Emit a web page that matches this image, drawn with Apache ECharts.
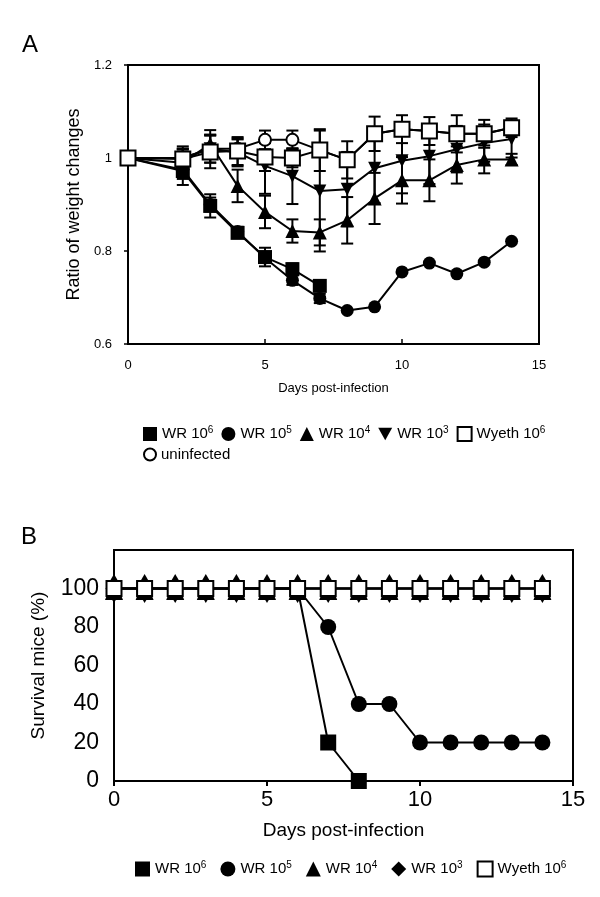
<!DOCTYPE html>
<html>
<head>
<meta charset="utf-8">
<script src="https://cdn.jsdelivr.net/npm/echarts@6/dist/echarts.min.js"></script>
<style>
  html, body { margin: 0; padding: 0; background: #fff; }
  #chart { width: 600px; height: 897px; }
</style>
</head>
<body>
<div id="chart"></div>
<script>
// panel A: weight ratio
const daysA = [0, 2, 3, 4, 5, 6, 7, 8, 9, 10, 11, 12, 13, 14];
const wr6A = [1.0, 0.972, 0.897, 0.839, 0.787, 0.761, 0.725];
const wr5A = [1.0, 0.975, 0.9, 0.842, 0.785, 0.737, 0.698, 0.672, 0.680, 0.755, 0.774, 0.751, 0.776, 0.821];
const wr4A = [1.0, 0.99, 1.03, 0.94, 0.884, 0.843, 0.84, 0.866, 0.913, 0.952, 0.952, 0.985, 0.997, 0.997];
const wr3A = [1.0, 1.0, 1.02, 1.012, 0.983, 0.961, 0.929, 0.933, 0.978, 0.994, 1.004, 1.019, 1.032, 1.041];
const wyethA = [1.0, 0.998, 1.013, 1.015, 1.002, 1.0, 1.017, 0.996, 1.052, 1.062, 1.058, 1.052, 1.052, 1.065];
const uninfA = [1.0, 1.0, 1.02, 1.02, 1.039, 1.039, 1.017, 0.996, 1.052, 1.062, 1.058, 1.052, 1.052, 1.065];
// error bar half lengths
const errWr6 = [0, 0.03, 0.025, 0.01, 0.02, 0.012, 0.01];
const errWr5 = [0, 0.02, 0.015, 0.01, 0.01, 0.01, 0.01, 0, 0, 0, 0, 0, 0, 0];
const errWr4 = [0, 0.03, 0.03, 0.035, 0.035, 0.025, 0.028, 0.05, 0.055, 0.05, 0.045, 0.04, 0.03, 0.012];
const errWr3 = [0, 0.025, 0.03, 0.03, 0.06, 0.06, 0.13, 0.08, 0.075, 0.07, 0.06, 0.05, 0.04, 0.04];
const errWyeth = [0, 0.02, 0.035, 0.03, 0.03, 0.02, 0.045, 0.04, 0.037, 0.03, 0.03, 0.04, 0.03, 0.02];
const errUninf = [0, 0.02, 0.03, 0.02, 0.02, 0.02, 0, 0, 0, 0, 0, 0, 0, 0];
const yTicksA = ['0.6', '0.8', '1', '1.2'];

// panel B: survival
const daysB = [0, 1, 2, 3, 4, 5, 6, 7, 8, 9, 10, 11, 12, 13, 14];
const wr6B = [100, 100, 100, 100, 100, 100, 100, 20, 0];
const wr5B = [100, 100, 100, 100, 100, 100, 100, 80, 40, 40, 20, 20, 20, 20, 20];
const wr4B = [100, 100, 100, 100, 100, 100, 100, 100, 100, 100, 100, 100, 100, 100, 100];
const wr3B = [100, 100, 100, 100, 100, 100, 100, 100, 100, 100, 100, 100, 100, 100, 100];
const wyethB = [100, 100, 100, 100, 100, 100, 100, 100, 100, 100, 100, 100, 100, 100, 100];

const FONT = 'Liberation Sans';
const downTri = 'path://M0,0L10,0L5,9Z';

function pts(days, vals) {
    return vals.map((v, i) => [days[i], v]);
}

function lineSeries(name, idx, days, vals, symbol, size, open, z) {
    return {
        name: name, type: 'line', xAxisIndex: idx, yAxisIndex: idx,
        data: pts(days, vals), symbol: symbol, symbolSize: size,
        showAllSymbol: true, z: z,
        lineStyle: { color: '#000', width: 2 },
        itemStyle: open ? { color: '#fff', borderColor: '#000', borderWidth: 2 }
                        : { color: '#000', borderColor: '#000', borderWidth: 0 },
        animation: false
    };
}

function errSeries(days, vals, errs, z) {
    let data = [];
    vals.forEach((v, i) => {
        if (errs[i] > 0) data.push([days[i], v - errs[i], v + errs[i]]);
    });
    return {
        type: 'custom', xAxisIndex: 0, yAxisIndex: 0, z: z, silent: true,
        data: data, encode: { x: 0, y: [1, 2] },
        renderItem: function (params, api) {
            let x = api.value(0);
            let top = api.coord([x, api.value(2)]);
            let bot = api.coord([x, api.value(1)]);
            let w = 6;
            let st = { stroke: '#000', lineWidth: 2 };
            return {
                type: 'group', children: [
                    { type: 'line', shape: { x1: top[0], y1: top[1], x2: bot[0], y2: bot[1] }, style: st },
                    { type: 'line', shape: { x1: top[0] - w, y1: top[1], x2: top[0] + w, y2: top[1] }, style: st },
                    { type: 'line', shape: { x1: bot[0] - w, y1: bot[1], x2: bot[0] + w, y2: bot[1] }, style: st }
                ]
            };
        },
        animation: false
    };
}

const supFmt = function (n) { return n.replace(/\^(\d)/, '{s|$1}'); };
const legendText = {
    fontFamily: FONT, fontSize: 15, color: '#000',
    rich: { s: { fontFamily: FONT, fontSize: 10, padding: [0, 0, 8, 0] } }
};
const openStyle = { color: '#fff', borderColor: '#000', borderWidth: 2 };

let chart = echarts.init(document.getElementById('chart'), null, { renderer: 'canvas' });
let option = {
    backgroundColor: '#fff',
    animation: false,
    graphic: [
        { type: 'text', left: 22, top: 33, style: { text: 'A', font: '24px ' + FONT, fill: '#000' } },
        { type: 'text', left: 21, top: 525, style: { text: 'B', font: '24px ' + FONT, fill: '#000' } }
    ],
    grid: [
        { left: 128, top: 65, width: 411, height: 279, show: true, borderColor: '#000', borderWidth: 2 },
        { left: 114, top: 550, width: 459, height: 231, show: true, borderColor: '#000', borderWidth: 2 }
    ],
    xAxis: [
        {
            gridIndex: 0, type: 'value', min: 0, max: 15, interval: 5,
            name: 'Days post-infection', nameLocation: 'middle', nameGap: 38,
            nameTextStyle: { fontFamily: FONT, fontSize: 13, color: '#000' },
            axisLine: { lineStyle: { color: '#000', width: 2 } },
            axisTick: { inside: true, length: 5, lineStyle: { color: '#000', width: 1.5 } },
            axisLabel: { fontFamily: FONT, fontSize: 13, color: '#000', margin: 15 },
            splitLine: { show: false }
        },
        {
            gridIndex: 1, type: 'value', min: 0, max: 15, interval: 5,
            name: 'Days post-infection', nameLocation: 'middle', nameGap: 40,
            nameTextStyle: { fontFamily: FONT, fontSize: 19, color: '#000' },
            axisLine: { lineStyle: { color: '#000', width: 2 } },
            axisTick: { length: 5, lineStyle: { color: '#000', width: 2 } },
            axisLabel: { fontFamily: FONT, fontSize: 22, color: '#000', margin: 8 },
            splitLine: { show: false }
        }
    ],
    yAxis: [
        {
            gridIndex: 0, type: 'value', min: 0.6, max: 1.2, interval: 0.2,
            name: 'Ratio of weight changes', nameLocation: 'middle', nameGap: 38, nameRotate: 90,
            nameTextStyle: { fontFamily: FONT, fontSize: 18, color: '#000' },
            axisLine: { show: true, lineStyle: { color: '#000', width: 2 } },
            axisTick: { show: true, length: 4, lineStyle: { color: '#000', width: 1.5 } },
            axisLabel: {
                fontFamily: FONT, fontSize: 13, color: '#000', margin: 16,
                formatter: function (v) { return yTicksA[Math.round((v - 0.6) / 0.2)]; }
            },
            splitLine: { show: false }
        },
        {
            gridIndex: 1, type: 'value', min: 0, max: 120, interval: 20,
            name: 'Survival mice (%)', nameLocation: 'middle', nameGap: 66, nameRotate: 90,
            nameTextStyle: { fontFamily: FONT, fontSize: 19, color: '#000' },
            axisLine: { show: true, lineStyle: { color: '#000', width: 2 } },
            axisTick: { show: false },
            axisLabel: {
                fontFamily: FONT, fontSize: 23, color: '#000', margin: 15,
                formatter: function (v) { return v > 100 ? '' : String(v); }
            },
            splitLine: { show: false }
        }
    ],
    legend: [
        {
            left: 138, top: 420, itemWidth: 14, itemHeight: 14, itemGap: 8,
            selectedMode: false, textStyle: legendText, formatter: supFmt,
            data: [
                { name: 'WR 10^6', icon: 'rect' },
                { name: 'WR 10^5', icon: 'circle' },
                { name: 'WR 10^4', icon: 'triangle' },
                { name: 'WR 10^3', icon: downTri },
                { name: 'Wyeth 10^6', icon: 'rect', itemStyle: openStyle }
            ]
        },
        {
            left: 138, top: 442, itemWidth: 12, itemHeight: 12,
            selectedMode: false, textStyle: legendText,
            data: [{ name: 'uninfected', icon: 'circle', itemStyle: openStyle }]
        },
        {
            left: 130, top: 855, itemWidth: 15, itemHeight: 15, itemGap: 14,
            selectedMode: false, textStyle: legendText, formatter: supFmt,
            data: [
                { name: 'WR 10^6', icon: 'rect' },
                { name: 'WR 10^5', icon: 'circle' },
                { name: 'WR 10^4', icon: 'triangle' },
                { name: 'WR 10^3', icon: 'diamond' },
                { name: 'Wyeth 10^6', icon: 'rect', itemStyle: openStyle }
            ]
        }
    ],
    series: [
        errSeries(daysA, uninfA, errUninf, 1),
        errSeries(daysA, wr5A, errWr5, 1),
        errSeries(daysA, wr6A, errWr6, 1),
        errSeries(daysA, wr4A, errWr4, 1),
        errSeries(daysA, wr3A, errWr3, 1),
        errSeries(daysA, wyethA, errWyeth, 1),
        lineSeries('uninfected', 0, daysA, uninfA, 'circle', 12, true, 2),
        lineSeries('WR 10^5', 0, daysA, wr5A, 'circle', 13, false, 3),
        lineSeries('WR 10^6', 0, daysA, wr6A, 'rect', 14, false, 4),
        lineSeries('WR 10^4', 0, daysA, wr4A, 'triangle', 14, false, 5),
        lineSeries('WR 10^3', 0, daysA, wr3A, downTri, 13, false, 6),
        lineSeries('Wyeth 10^6', 0, daysA, wyethA, 'rect', 15, true, 7),

        lineSeries('WR 10^6', 1, daysB, wr6B, 'rect', 16, false, 3),
        lineSeries('WR 10^5', 1, daysB, wr5B, 'circle', 16, false, 4),
        lineSeries('WR 10^4', 1, daysB, wr4B, 'triangle', [18, 23], false, 5),
        lineSeries('WR 10^3', 1, daysB, wr3B, 'diamond', [17, 29], false, 6),
        lineSeries('Wyeth 10^6', 1, daysB, wyethB, 'rect', 15, true, 7)
    ]
};
chart.setOption(option);
</script>
</body>
</html>
